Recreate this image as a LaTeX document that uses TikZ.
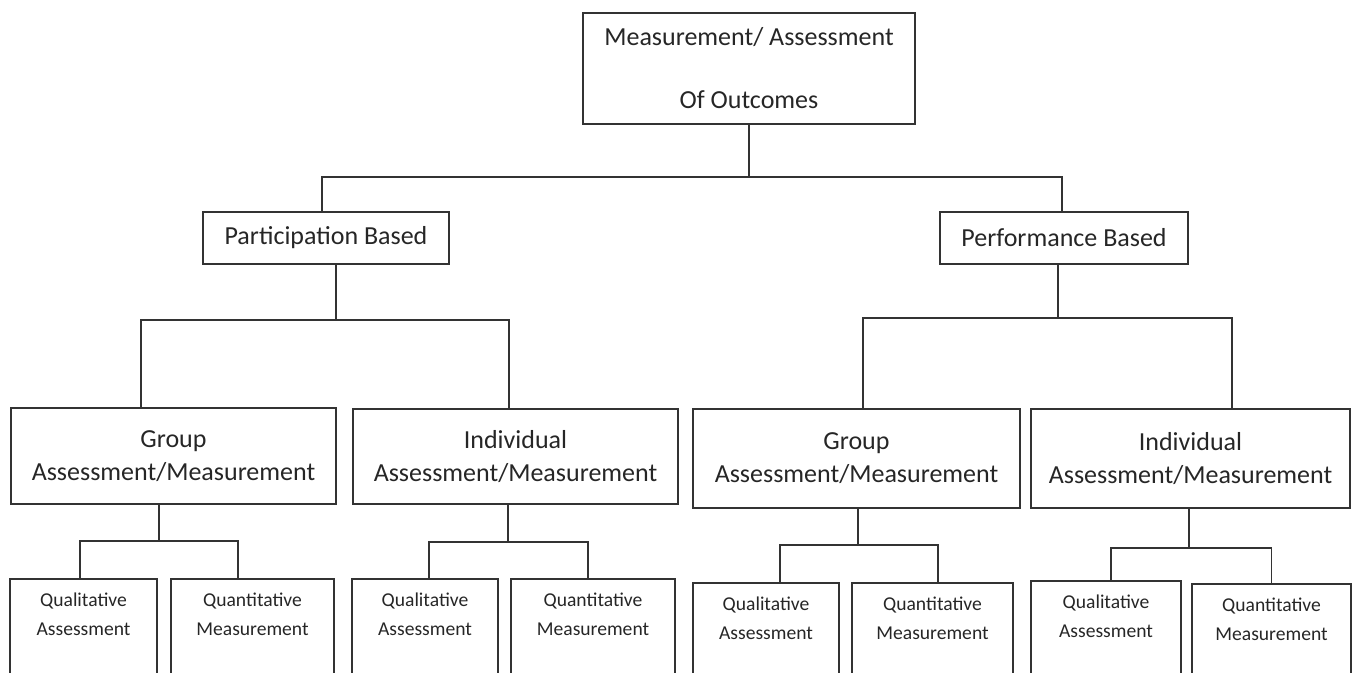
\documentclass[tikz,border=0pt]{standalone}
\usepackage{fontspec}
\setmainfont{Carlito}
\usepackage{tikz}

\begin{document}
\begin{tikzpicture}[x=0.5pt,y=-0.5pt,
  box/.style={draw=black!80, line width=0.75pt, align=center, inner sep=0pt, text=black!85},
  head/.style={box, font=\fontsize{13pt}{31.5pt}\selectfont},
  mid/.style={box, font=\fontsize{13pt}{16.5pt}\selectfont},
  leaf/.style={box, anchor=north, inner ysep=7pt, text depth=40pt, font=\fontsize{9.8pt}{14.5pt}\selectfont},
  wire/.style={draw=black!80, line width=0.75pt}]
\useasboundingbox (0,0) rectangle (1352,673);
\clip (0,0) rectangle (1352,673);

% top level
\node[head, minimum width=166pt, minimum height=55.5pt] (outcomes) at (749,68.5) {Measurement/ Assessment\\Of Outcomes};

% second level
\node[mid, minimum width=123pt, minimum height=26pt] (participation) at (326,238) {Participation Based};
\node[mid, minimum width=124pt, minimum height=26pt] (performance) at (1064,238) {Performance Based};

% third level
\node[mid, minimum width=162.5pt, minimum height=48pt] (groupP) at (173.5,456) {Group\\Assessment/Measurement};
\node[mid, minimum width=162.5pt, minimum height=47.5pt] (indivP) at (515.5,456.5) {Individual\\Assessment/Measurement};
\node[mid, minimum width=163.5pt, minimum height=49.5pt] (groupF) at (856.5,458.5) {Group\\Assessment/Measurement};
\node[mid, minimum width=159.5pt, minimum height=49.5pt] (indivF) at (1190.5,458.5) {Individual\\Assessment/Measurement};

% leaves (open at the bottom edge)
\node[leaf, minimum width=73.5pt] (qualGP) at (83.5,578) {Qualitative\\Assessment};
\node[leaf, minimum width=81.5pt] (quanGP) at (252.5,578) {Quantitative\\Measurement};
\node[leaf, minimum width=73pt] (qualIP) at (425,578) {Qualitative\\Assessment};
\node[leaf, minimum width=82pt] (quanIP) at (593,578) {Quantitative\\Measurement};
\node[leaf, minimum width=73pt] (qualGF) at (766,582) {Qualitative\\Assessment};
\node[leaf, minimum width=80.5pt] (quanGF) at (932.5,582) {Quantitative\\Measurement};
\node[leaf, minimum width=75pt] (qualIF) at (1106,580) {Qualitative\\Assessment};
\node[leaf, minimum width=79.5pt] (quanIF) at (1271.5,583) {Quantitative\\Measurement};

% connectors
\coordinate (rootjoin) at (749,177);
\draw[wire] (outcomes.south) -- (rootjoin);
\draw[wire] ([xshift=-2pt]participation.north) |- (rootjoin) -| ([xshift=-1pt]performance.north);

\coordinate (partjoin) at (336,320);
\draw[wire] ([xshift=5pt]participation.south) -- (partjoin);
\draw[wire] ([xshift=-16.25pt]groupP.north) |- (partjoin) -| ([xshift=-3.25pt]indivP.north);

\coordinate (perfjoin) at (1058,318);
\draw[wire] ([xshift=-3pt]performance.south) -- (perfjoin);
\draw[wire] ([xshift=3.25pt]groupF.north) |- (perfjoin) -| ([xshift=20.75pt]indivF.north);

\coordinate (gpjoin) at (159,541);
\draw[wire] ([xshift=-7.25pt]groupP.south) -- (gpjoin);
\draw[wire] ([xshift=-1.75pt]qualGP.north) |- (gpjoin) -| ([xshift=-7.25pt]quanGP.north);

\coordinate (ipjoin) at (508,542);
\draw[wire] ([xshift=-3.75pt]indivP.south) -- (ipjoin);
\draw[wire] ([xshift=2pt]qualIP.north) |- (ipjoin) -| ([xshift=-2.5pt]quanIP.north);

\coordinate (gfjoin) at (858,545);
\draw[wire] ([xshift=0.75pt]groupF.south) -- (gfjoin);
\draw[wire] ([xshift=7pt]qualGF.north) |- (gfjoin) -| ([xshift=2.75pt]quanGF.north);

\coordinate (ifjoin) at (1189,548);
\draw[wire] ([xshift=-0.75pt]indivF.south) -- (ifjoin);
\draw[wire] ([xshift=2.5pt]qualIF.north) |- (ifjoin) -| (quanIF.north);

\end{tikzpicture}
\end{document}
